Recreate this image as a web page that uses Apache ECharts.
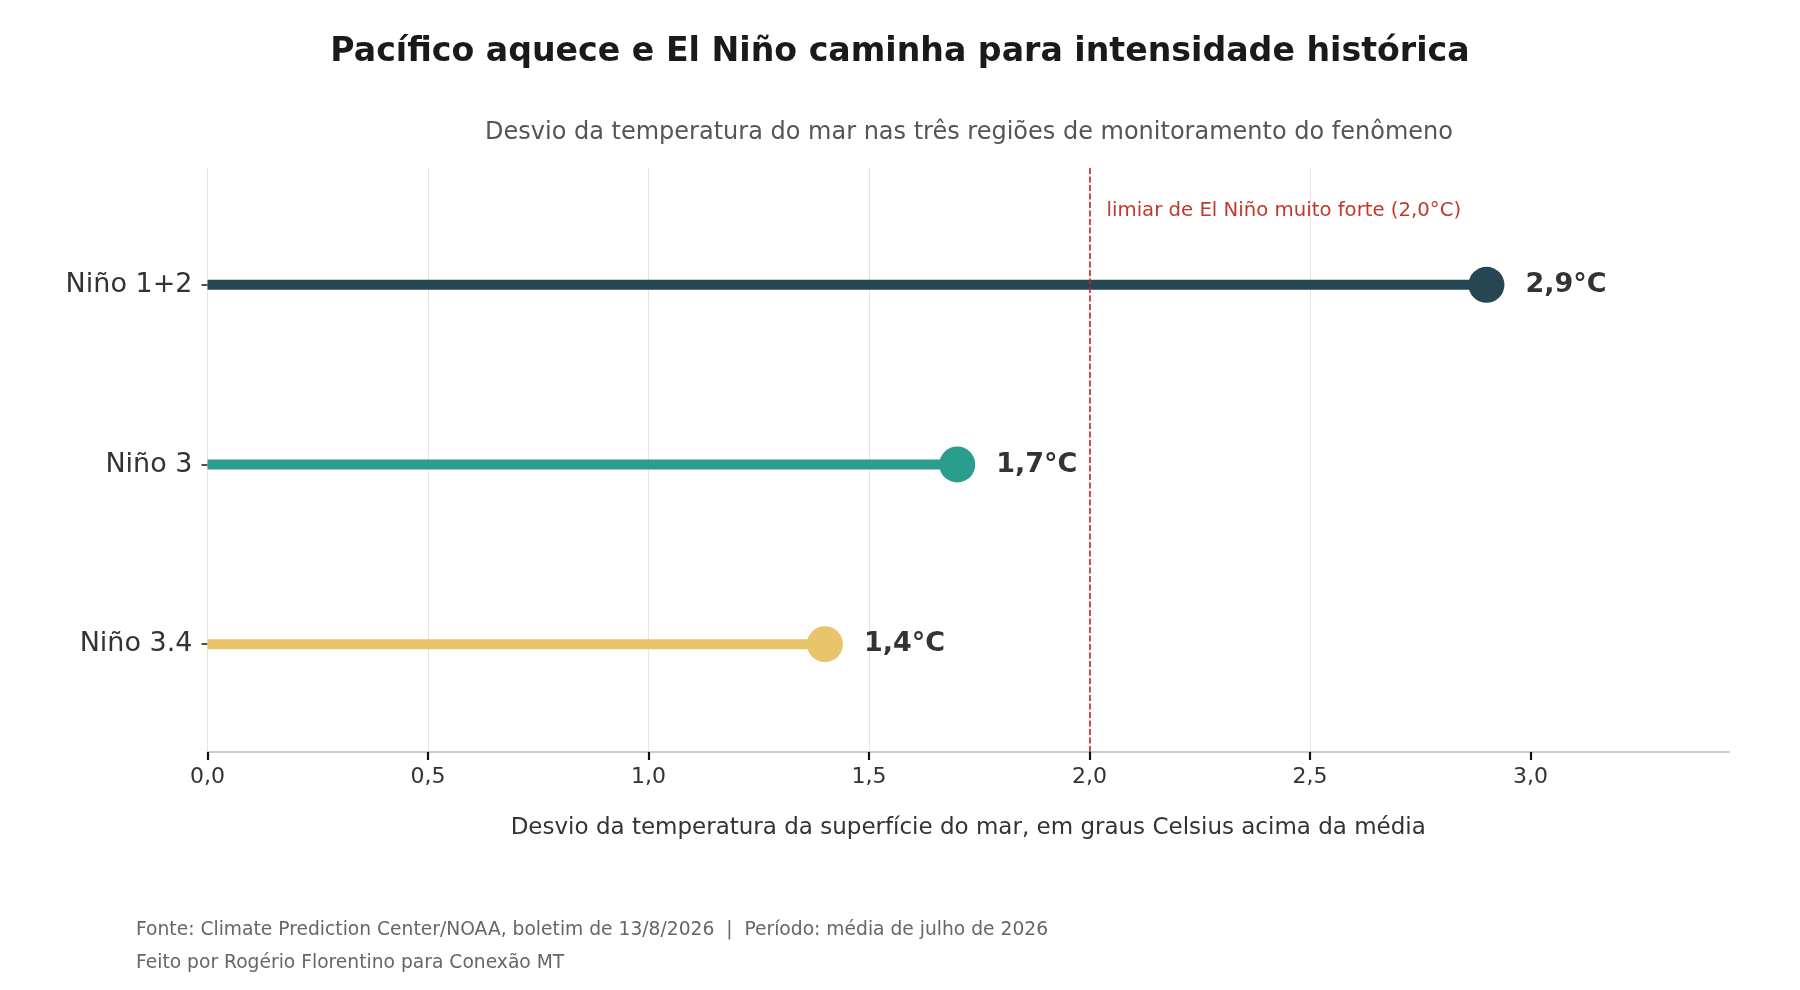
<!DOCTYPE html>
<html>
<head>
<meta charset="utf-8">
<script src="https://cdn.jsdelivr.net/npm/echarts@6/dist/echarts.min.js"></script>
<style>
  html, body { margin: 0; padding: 0; background: #fff; }
  #chart { width: 1800px; height: 990px; }
</style>
</head>
<body>
<div id="chart"></div>
<script>
// data
const categories = ['Niño 3.4', 'Niño 3', 'Niño 1+2'];
const anomalies = [1.4, 1.7, 2.9];
const lineColors = ['#e9c46a', '#2a9d8f', '#264653'];
const xTicks = [0, 0.5, 1.0, 1.5, 2.0, 2.5, 3.0];
const yTicks = [0, 1, 2];
const threshold = 2.0;

const FONT = 'DejaVu Sans';
const fmt = v => v.toFixed(1).replace('.', ',');

var myChart = echarts.init(document.getElementById('chart'));

// one line series per region: from 0 to the value, dot at the end
const series = categories.map((name, i) => ({
  name: name,
  type: 'line',
  data: [
    {value: [0, i], symbolSize: 0, label: {show: false}},
    {value: [anomalies[i], i]}
  ],
  symbol: 'circle',
  symbolSize: 36,
  showSymbol: true,
  lineStyle: {color: lineColors[i], width: 10, cap: 'butt'},
  itemStyle: {color: lineColors[i]},
  label: {
    show: true,
    position: 'right',
    distance: 21,
    formatter: p => fmt(p.value[0]) + '°C',
    fontFamily: FONT,
    fontWeight: 'bold',
    fontSize: 27,
    color: '#333'
  },
  emphasis: {disabled: true},
  z: 3
}));

// threshold line + annotation
series.push({
  type: 'line',
  data: [],
  markLine: {
    silent: true,
    symbol: 'none',
    label: {show: false},
    lineStyle: {color: '#c1272d', width: 1.6, type: [6, 2.5]},
    data: [{xAxis: threshold}]
  },
  markPoint: {
    silent: true,
    symbol: 'circle',
    symbolSize: 0,
    data: [{coord: [threshold, 2.41]}],
    label: {
      show: true,
      position: 'right',
      distance: 17,
      formatter: 'limiar de El Niño muito forte (' + fmt(threshold) + '°C)',
      fontFamily: FONT,
      fontSize: 19.7,
      color: '#c0392b'
    }
  },
  z: 4
});

myChart.setOption({
  animation: false,
  backgroundColor: '#fff',
  title: [
    {
      text: 'Pacífico aquece e El Niño caminha para intensidade histórica',
      left: 'center',
      top: 31,
      textStyle: {fontFamily: FONT, fontWeight: 'bold', fontSize: 33.2, color: '#1a1a1a'}
    },
    {
      text: 'Desvio da temperatura do mar nas três regiões de monitoramento do fenômeno',
      left: 964,
      textAlign: 'center',
      top: 116,
      textStyle: {fontFamily: FONT, fontWeight: 'normal', fontSize: 24, color: '#555'}
    }
  ],
  grid: {left: 207.5, right: 71, top: 168, bottom: 238},
  xAxis: {
    type: 'value',
    min: 0,
    max: 3.45,
    interval: 0.5,
    name: 'Desvio da temperatura da superfície do mar, em graus Celsius acima da média',
    nameLocation: 'middle',
    nameGap: 65,
    nameTextStyle: {fontFamily: FONT, fontSize: 23, color: '#333'},
    axisLine: {show: true, onZero: false, lineStyle: {color: '#cccccc', width: 2}},
    axisTick: {show: true, inside: false, length: 8, lineStyle: {color: '#111', width: 2.2}, customValues: xTicks},
    axisLabel: {
      customValues: xTicks,
      margin: 14,
      fontFamily: FONT,
      fontSize: 22,
      color: '#333',
      formatter: v => fmt(v)
    },
    splitLine: {show: true, showMaxLine: false, lineStyle: {color: '#e5e5e5', width: 1}}
  },
  yAxis: {
    type: 'value',
    min: -0.6,
    max: 2.65,
    axisLine: {show: false, onZero: false},
    axisTick: {show: true, length: 6, lineStyle: {color: '#222', width: 1.6}, customValues: yTicks},
    axisLabel: {
      customValues: yTicks,
      margin: 15,
      fontFamily: FONT,
      fontSize: 27,
      color: '#333',
      formatter: v => categories[Math.round(v)] || ''
    },
    splitLine: {show: false}
  },
  graphic: [
    {
      type: 'text',
      left: 136,
      top: 921,
      style: {
        text: 'Fonte: Climate Prediction Center/NOAA, boletim de 13/8/2026  |  Período: média de julho de 2026',
        font: '18.7px "DejaVu Sans"',
        fill: '#666'
      }
    },
    {
      type: 'text',
      left: 136,
      top: 954,
      style: {
        text: 'Feito por Rogério Florentino para Conexão MT',
        font: '18.7px "DejaVu Sans"',
        fill: '#666'
      }
    }
  ],
  series: series
});
</script>
</body>
</html>
